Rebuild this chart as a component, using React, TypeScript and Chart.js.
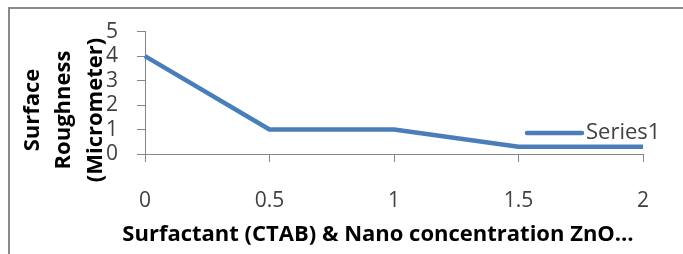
import React, { useEffect, useRef } from "react";
import { Chart, registerables } from "chart.js";

Chart.register(...registerables);

const categories: string[] = ["0", "0.5", "1", "1.5", "2"];
const series1: number[] = [4, 1, 1, 0.3, 0.3];
const seriesName = "Series1";
const yTicks: number[] = [0, 1, 2, 3, 4, 5];
const yTitleLines: string[] = ["Surface", "Roughness", "(Micrometer)"];
const xTitle = "Surfactant (CTAB) & Nano concentration ZnO\u2026";

const FONT = "'Open Sans', Lato, sans-serif";
const LINE_COLOR = "#4A7EBB";
const AXIS_COLOR = "#868686";
const TEXT_COLOR = "#404040";

const overlayPlugin = {
  id: "overlayText",
  afterDraw(chart: any) {
    const ctx = chart.ctx as CanvasRenderingContext2D;
    const area = chart.chartArea;
    ctx.save();
    // y axis title, three rotated lines
    ctx.fillStyle = "#000";
    ctx.font = `bold 22px ${FONT}`;
    ctx.textAlign = "center";
    ctx.textBaseline = "alphabetic";
    const baseX = [39, 70, 102];
    yTitleLines.forEach((line, i) => {
      ctx.save();
      ctx.translate(baseX[i], 110);
      ctx.rotate(-Math.PI / 2);
      ctx.fillText(line, 0, 0);
      ctx.restore();
    });
    // x axis title
    ctx.fillText(xTitle, 378, 241);
    // legend
    const ds = chart.data.datasets[0];
    const ly = 133;
    const lx = area.right - 116;
    ctx.strokeStyle = ds.borderColor;
    ctx.lineWidth = 4.5;
    ctx.lineCap = "round";
    ctx.beginPath();
    ctx.moveTo(lx, ly);
    ctx.lineTo(lx + 55, ly);
    ctx.stroke();
    ctx.fillStyle = TEXT_COLOR;
    ctx.font = `22px ${FONT}`;
    ctx.textAlign = "left";
    ctx.textBaseline = "middle";
    ctx.fillText(ds.label, lx + 59, ly);
    ctx.restore();
  },
};

export default function App() {
  const ref = useRef<HTMLCanvasElement | null>(null);
  useEffect(() => {
    if (!ref.current) return;
    const chart = new Chart(ref.current, {
      type: "line",
      data: {
        labels: categories,
        datasets: [
          {
            label: seriesName,
            data: series1,
            borderColor: LINE_COLOR,
            backgroundColor: LINE_COLOR,
            borderWidth: 4.5,
            pointRadius: 0,
            tension: 0,
            borderJoinStyle: "round",
          },
        ],
      },
      options: {
        animation: false,
        responsive: false,
        devicePixelRatio: 1,
        layout: { padding: { top: 24, right: 40, left: 0, bottom: 0 } },
        plugins: {
          legend: { display: false },
          tooltip: { enabled: false },
        },
        scales: {
          x: {
            type: "category",
            offset: false,
            grid: {
              display: true,
              drawOnChartArea: false,
              drawTicks: true,
              tickLength: 8,
              color: AXIS_COLOR,
              offset: false,
            },
            border: { display: true, color: AXIS_COLOR, width: 1 },
            ticks: {
              color: TEXT_COLOR,
              font: { family: FONT, size: 21 },
              padding: 26,
              maxRotation: 0,
              autoSkip: false,
            },
            afterFit: (s: any) => {
              s.height = 100;
            },
          },
          y: {
            min: 0,
            max: 5,
            afterBuildTicks: (s: any) => {
              s.ticks = yTicks.map((v) => ({ value: v }));
            },
            grid: {
              display: true,
              drawOnChartArea: false,
              drawTicks: true,
              tickLength: 8,
              color: AXIS_COLOR,
            },
            border: { display: true, color: AXIS_COLOR, width: 1 },
            ticks: {
              color: TEXT_COLOR,
              font: { family: FONT, size: 21 },
              padding: 19,
              autoSkip: false,
            },
            afterFit: (s: any) => {
              s.width = 145;
            },
          },
        },
      },
      plugins: [overlayPlugin],
    });
    return () => chart.destroy();
  }, []);

  return (
    <div
      style={{
        position: "fixed",
        left: 0,
        top: 0,
        width: 683,
        height: 254,
        overflow: "hidden",
        background: "#fff",
      }}
    >
      <div
        style={{
          position: "absolute",
          left: 8,
          top: 7,
          width: 675,
          height: 247,
          borderTop: "2px solid #8a8a8a",
          borderLeft: "2px solid #8a8a8a",
          boxSizing: "border-box",
        }}
      />
      <canvas
        ref={ref}
        width={683}
        height={254}
        style={{ position: "absolute", left: 0, top: 0, width: 683, height: 254 }}
      />
    </div>
  );
}
